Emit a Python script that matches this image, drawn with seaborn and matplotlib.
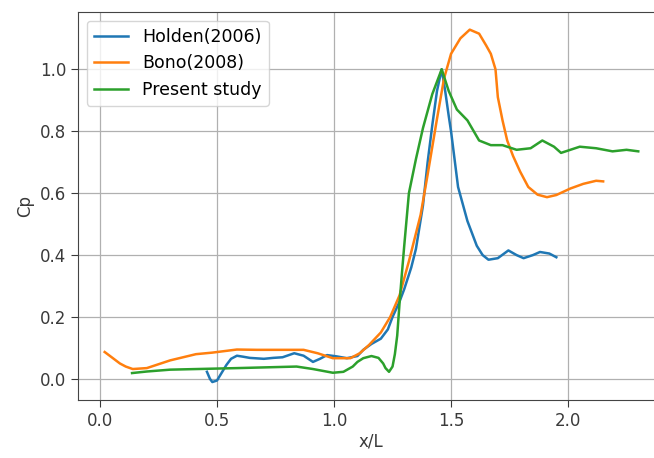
import matplotlib
matplotlib.use("Agg")
import matplotlib.pyplot as plt
import seaborn as sns
import pandas as pd

# Holden (2006)
holden_x = [0.457, 0.47, 0.48, 0.50, 0.52, 0.54, 0.56, 0.585, 0.61, 0.64, 0.70, 0.74, 0.78, 0.83,
            0.87, 0.91, 0.94, 0.97, 1.01, 1.055, 1.10, 1.125, 1.16, 1.20, 1.23, 1.25, 1.28, 1.30,
            1.33, 1.35, 1.38, 1.40, 1.42, 1.44, 1.46, 1.475, 1.49, 1.50, 1.53, 1.57, 1.61, 1.635,
            1.66, 1.70, 1.745, 1.78, 1.81, 1.85, 1.88, 1.92, 1.95]
holden_y = [0.023, 0.0, -0.01, -0.005, 0.02, 0.045, 0.065, 0.075, 0.072, 0.068, 0.065, 0.068, 0.07,
            0.083, 0.075, 0.055, 0.065, 0.077, 0.073, 0.067, 0.074, 0.094, 0.113, 0.13, 0.16, 0.20,
            0.25, 0.29, 0.36, 0.42, 0.56, 0.70, 0.82, 0.93, 1.0, 0.93, 0.85, 0.80, 0.62, 0.51, 0.43,
            0.40, 0.385, 0.39, 0.415, 0.40, 0.39, 0.40, 0.41, 0.405, 0.393]

# Bono (2008)
bono_x = [0.02, 0.05, 0.085, 0.11, 0.14, 0.2, 0.3, 0.41, 0.48, 0.585, 0.67, 0.78, 0.87, 0.93,
          0.995, 1.07, 1.11, 1.15, 1.20, 1.24, 1.28, 1.32, 1.37, 1.40, 1.44, 1.47, 1.50, 1.54,
          1.58, 1.62, 1.65, 1.67, 1.69, 1.70, 1.72, 1.74, 1.765, 1.795, 1.83, 1.87, 1.91, 1.95,
          2.01, 2.065, 2.12, 2.15]
bono_y = [0.087, 0.07, 0.05, 0.04, 0.032, 0.035, 0.06, 0.08, 0.085, 0.095, 0.094, 0.094, 0.094,
          0.083, 0.067, 0.067, 0.083, 0.11, 0.15, 0.2, 0.27, 0.38, 0.53, 0.66, 0.84, 0.97, 1.05,
          1.10, 1.128, 1.115, 1.077, 1.05, 1.0, 0.91, 0.835, 0.77, 0.72, 0.67, 0.62, 0.595, 0.587,
          0.594, 0.615, 0.63, 0.64, 0.638]

# Present study
present_x = [0.137, 0.2, 0.3, 0.585, 0.84, 0.91, 0.995, 1.04, 1.08, 1.10, 1.125, 1.16, 1.19,
             1.21, 1.22, 1.235, 1.25, 1.26, 1.27, 1.28, 1.29, 1.30, 1.32, 1.35, 1.38, 1.42, 1.46,
             1.49, 1.525, 1.57, 1.62, 1.67, 1.72, 1.78, 1.84, 1.89, 1.94, 1.97, 2.01, 2.05, 2.12,
             2.19, 2.25, 2.30]
present_y = [0.019, 0.024, 0.03, 0.035, 0.04, 0.032, 0.02, 0.023, 0.04, 0.055, 0.067, 0.074, 0.068,
             0.05, 0.035, 0.023, 0.04, 0.08, 0.14, 0.245, 0.34, 0.43, 0.60, 0.71, 0.81, 0.92, 1.0,
             0.93, 0.87, 0.835, 0.77, 0.755, 0.755, 0.74, 0.745, 0.77, 0.75, 0.73, 0.74, 0.75,
             0.745, 0.735, 0.74, 0.735]

labels = ["Holden(2006)", "Bono(2008)", "Present study"]

df = pd.concat([
    pd.DataFrame({"x": holden_x, "y": holden_y, "series": labels[0]}),
    pd.DataFrame({"x": bono_x, "y": bono_y, "series": labels[1]}),
    pd.DataFrame({"x": present_x, "y": present_y, "series": labels[2]}),
], ignore_index=True)

plt.rcParams["font.family"] = ["DejaVu Sans"]
fig = plt.figure(figsize=(6.54, 4.58), dpi=100)
ax = fig.add_axes([78 / 654, 1 - 400 / 458, (664 - 78) / 654, (400 - 12) / 458])

sns.lineplot(data=df, x="x", y="y", hue="series", hue_order=labels,
             palette=["#1f77b4", "#ff7f0e", "#2ca02c"], estimator=None, sort=False,
             linewidth=1.8, ax=ax)

ax.set_xlim(-0.094, 2.41)
ax.set_ylim(-0.068, 1.185)
ax.set_xticks([0.0, 0.5, 1.0, 1.5, 2.0])
ax.set_yticks([0.0, 0.2, 0.4, 0.6, 0.8, 1.0])
ax.tick_params(labelsize=12, colors="#3a3a3a", length=5)
ax.grid(True, color="#b0b0b0", linewidth=0.9)
ax.set_xlabel("x/L", fontsize=12, color="#3a3a3a", labelpad=2)
ax.set_ylabel("Cp", fontsize=12, color="#3a3a3a")
for s in ax.spines.values():
    s.set_color("#444444")
leg = ax.legend(loc="upper left", fontsize=12.5, title=None)
leg.get_frame().set_edgecolor("#cccccc")

fig.savefig("out.png", dpi=100)
